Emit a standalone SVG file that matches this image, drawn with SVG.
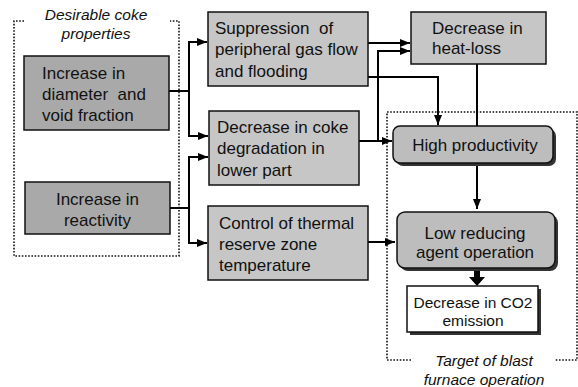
<svg xmlns="http://www.w3.org/2000/svg" width="578" height="387" viewBox="0 0 578 387">
<defs>
<marker id="ah" markerWidth="10" markerHeight="8" refX="10" refY="4" orient="auto" markerUnits="userSpaceOnUse">
<path d="M0,0 L10,4 L0,8 Z" fill="#000"/>
</marker>
</defs>
<style>
text{font-family:"Liberation Sans",Arial,sans-serif;font-size:17px;fill:#111}
.it{font-style:italic;font-size:15.5px}
.sm{font-size:15.5px}
.mid{text-anchor:middle}
.dark{fill:#a9a9a9;stroke:#111;stroke-width:1.5}
.light{fill:#c6c6c6;stroke:#111;stroke-width:1.5}
.round{fill:#bdbdbd;stroke:#111;stroke-width:1.5}
.shadow{fill:#333}
.dot{fill:none;stroke:#111;stroke-width:1.6;stroke-dasharray:1.6 1.6}
.ln{fill:none;stroke:#000;stroke-width:2}
</style>
<rect width="578" height="387" fill="#fff"/>

<g id="group-left">
<path class="dot" d="M24,21 H14 V256 H179 V21 H170"/>
<text class="it mid" x="96" y="20">Desirable coke</text>
<text class="it mid" x="96" y="39">properties</text>
</g>
<g id="group-right">
<path class="dot" d="M411,360 H387 V112 H577 V360 H555"/>
<text class="it mid" x="484" y="366">Target of blast</text>
<text class="it mid" x="484" y="385">furnace operation</text>
</g>

<g id="connectors">
<path class="ln" d="M169,91 H189"/>
<path class="ln" d="M189,91 V42 H207" marker-end="url(#ah)"/>
<path class="ln" d="M189,91 V136 H208" marker-end="url(#ah)"/>
<path class="ln" d="M170,208 H189"/>
<path class="ln" d="M189,208 V157 H208" marker-end="url(#ah)"/>
<path class="ln" d="M189,208 V243 H207" marker-end="url(#ah)"/>
<path class="ln" d="M368,43 H410" marker-end="url(#ah)"/>
<path class="ln" d="M368,77 H438 V125" marker-end="url(#ah)"/>
<path class="ln" d="M359,141 H392" marker-end="url(#ah)"/>
<path class="ln" d="M378,141 V51 H410" marker-end="url(#ah)"/>
<path class="ln" d="M477,64 V126"/>
<path class="ln" d="M477,163 V209" marker-end="url(#ah)"/>
<path class="ln" d="M368,242 H395" marker-end="url(#ah)"/>
<path fill="#000" d="M474,270 H480 V277 H485 L477,286 L469,277 H474 Z"/>
</g>

<g id="node-diameter">
<rect class="dark" x="24" y="56" width="145" height="74"/>
<text x="42" y="79">Increase in</text>
<text x="42" y="100" xml:space="preserve">diameter  and</text>
<text x="42" y="121">void fraction</text>
</g>
<g id="node-reactivity">
<rect class="dark" x="25" y="182" width="145" height="52"/>
<text class="mid" x="97.5" y="205">Increase in</text>
<text class="mid" x="97.5" y="226">reactivity</text>
</g>
<g id="node-suppression">
<rect class="light" x="208" y="12" width="160" height="74"/>
<text x="215" y="34" xml:space="preserve">Suppression  of</text>
<text x="215" y="55">peripheral gas flow</text>
<text x="215" y="77">and flooding</text>
</g>
<g id="node-degradation">
<rect class="light" x="209" y="111" width="150" height="74"/>
<text x="217" y="133">Decrease in coke</text>
<text x="217" y="154">degradation in</text>
<text x="217" y="176">lower part</text>
</g>
<g id="node-thermal">
<rect class="light" x="208" y="206" width="160" height="74"/>
<text x="219" y="229">Control of thermal</text>
<text x="219" y="250">reserve zone</text>
<text x="219" y="271">temperature</text>
</g>
<g id="node-heatloss">
<rect class="light" x="411" y="12" width="135" height="52"/>
<text x="432" y="34">Decrease in</text>
<text x="432" y="54">heat-loss</text>
</g>
<g id="node-productivity">
<rect class="shadow" x="396" y="129" width="160" height="37" rx="7"/>
<rect class="round" x="393" y="126" width="160" height="37" rx="7"/>
<text class="mid" x="475" y="151">High productivity</text>
</g>
<g id="node-reducing">
<rect class="shadow" x="400" y="215" width="158" height="56" rx="8"/>
<rect class="round" x="397" y="212" width="158" height="56" rx="8"/>
<text class="mid" x="475" y="239">Low reducing</text>
<text class="mid" x="475" y="258">agent operation</text>
</g>
<g id="node-co2">
<rect class="shadow" x="410" y="289" width="131" height="46"/>
<rect fill="#fff" stroke="#111" stroke-width="1.5" x="407" y="286" width="131" height="46"/>
<text class="sm mid" x="473" y="308">Decrease in CO2</text>
<text class="sm mid" x="473" y="326">emission</text>
</g>
</svg>
